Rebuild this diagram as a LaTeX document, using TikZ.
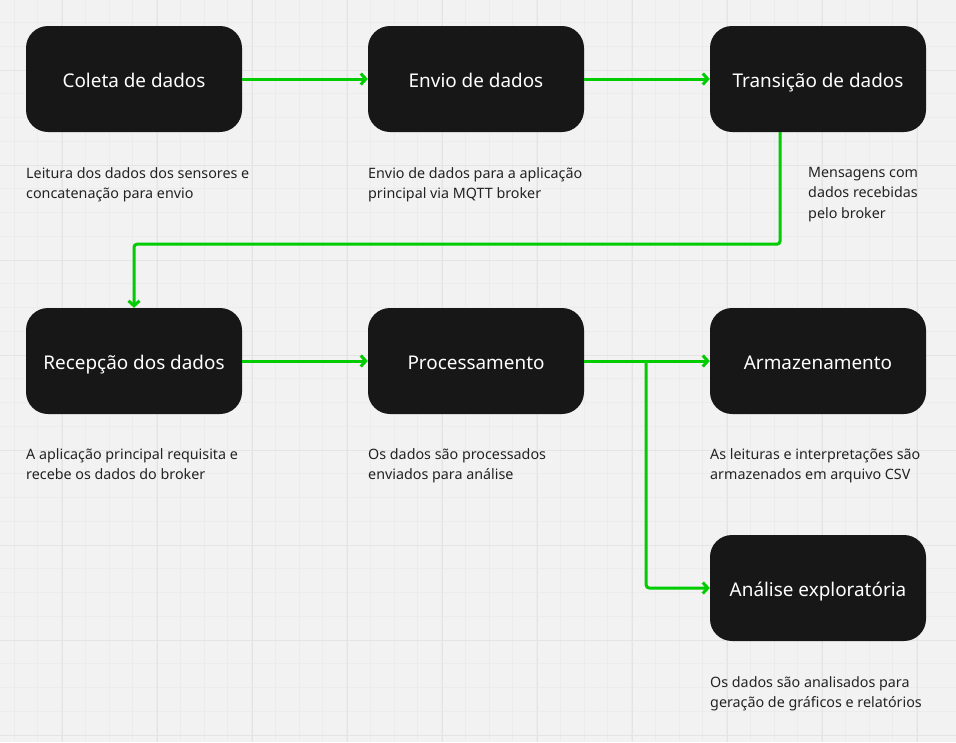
\documentclass[tikz,border=0pt]{standalone}
\usepackage{fontspec}
\setmainfont{Noto Sans}
\usetikzlibrary{arrows.meta}

\definecolor{boxfill}{HTML}{171717}
\definecolor{flowgreen}{HTML}{00CC00}
\definecolor{paper}{HTML}{F2F2F2}
\definecolor{gridminor}{HTML}{ECECEC}
\definecolor{gridmajor}{HTML}{E4E4E4}
\definecolor{notetext}{HTML}{222222}

\tikzset{
  stage/.style={draw=none, fill=boxfill, rounded corners=22pt, minimum width=216pt,
    minimum height=106pt, text=white, font=\fontsize{18.9}{22}\selectfont, inner sep=0pt,
    text height=18pt, text depth=2pt},
  note/.style={anchor=north west, align=left, inner sep=0pt, text=notetext,
    font=\fontsize{14.3}{20.5}\selectfont},
  flow/.style={draw=flowgreen, line width=3pt, rounded corners=3pt,
    -{Straight Barb[length=5pt,width=11pt,line width=3pt]}}
}

\begin{document}
\begin{tikzpicture}[x=1pt, y=-1pt]
  % Background and grid
  \fill[paper] (0,0) rectangle (956,742);
  \useasboundingbox (0,0) rectangle (956,742);
  \foreach \i in {-2,...,38} {
    \draw[gridminor, line width=0.8pt] (14+23.75*\i,0) -- (14+23.75*\i,742);
    \draw[gridminor, line width=0.8pt] (0,-1.25+23.75*\i) -- (956,-1.25+23.75*\i);
  }
  \foreach \i in {-1,...,9} {
    \draw[gridmajor, line width=1pt] (62+95*\i,0) -- (62+95*\i,742);
    \draw[gridmajor, line width=1pt] (0,70+95*\i) -- (956,70+95*\i);
  }

  % Stages
  \node[stage] (coleta) at (134,79) {Coleta de dados};
  \node[stage] (envio) at (476,79) {Envio de dados};
  \node[stage] (trans) at (818,79) {Transição de dados};
  \node[stage] (recep) at (134,361) {Recepção dos dados};
  \node[stage] (proc) at (476,361) {Processamento};
  \node[stage] (armaz) at (818,361) {Armazenamento};
  \node[stage] (anal) at (818,588) {Análise exploratória};

  % Notes
  \node[note] (ncoleta) at (26,167) {Leitura dos dados dos sensores e\\concatenação para envio};
  \node[note] (nenvio) at (368,167) {Envio de dados para a aplicação\\principal via MQTT broker};
  \node[note] (ntrans) at (808,167) {Mensagens com\\dados recebidas\\pelo broker};
  \node[note] (nrecep) at (26,448) {A aplicação principal requisita e\\recebe os dados do broker};
  \node[note] (nproc) at (368,448) {Os dados são processados\\enviados para análise};
  \node[note] (narmaz) at (710,448) {As leituras e interpretações são\\armazenados em arquivo CSV};
  \node[note] (nanal) at (710,676) {Os dados são analisados para\\geração de gráficos e relatórios};

  % Connectors
  \draw[flow] (coleta) -- (envio);
  \draw[flow] (envio) -- (trans);
  \draw[flow] ([xshift=-38pt]trans.south) -- ++(0,112) -| (recep);
  \draw[flow] (recep) -- (proc);
  \draw[flow] (proc) -- (armaz);
  \draw[flow] ([xshift=62pt]proc.east) |- (anal);
\end{tikzpicture}
\end{document}
